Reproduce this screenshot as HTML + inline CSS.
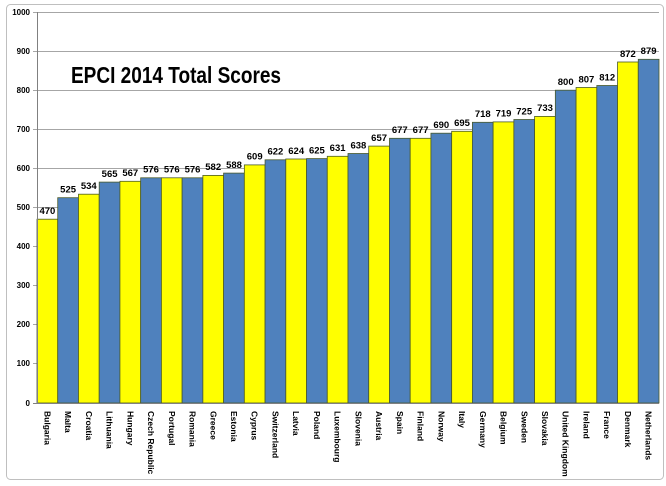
<!DOCTYPE html>
<html><head><style>
html,body{margin:0;padding:0;background:#fff;}
svg{display:block;font-family:"Liberation Sans",Arial,sans-serif;}
</style></head><body>
<svg width="666" height="486" viewBox="0 0 666 486" xmlns="http://www.w3.org/2000/svg">
<rect x="6.5" y="4.5" width="657" height="475" rx="4" fill="#fff" stroke="#bfbfbf" stroke-width="1"/>
<g stroke="#a6a6a6" stroke-width="1">
<line x1="33" x2="659" y1="12.5" y2="12.5"/>
<line x1="33" x2="659" y1="51.5" y2="51.5"/>
<line x1="33" x2="659" y1="90.5" y2="90.5"/>
<line x1="33" x2="659" y1="129.5" y2="129.5"/>
<line x1="33" x2="659" y1="168.5" y2="168.5"/>
<line x1="33" x2="659" y1="207.5" y2="207.5"/>
<line x1="33" x2="659" y1="246.5" y2="246.5"/>
<line x1="33" x2="659" y1="285.5" y2="285.5"/>
<line x1="33" x2="659" y1="324.5" y2="324.5"/>
<line x1="33" x2="659" y1="363.5" y2="363.5"/>
</g>
<g font-size="8" font-weight="bold" text-anchor="end" fill="#000">
<text x="30" y="15">1000</text><text x="30" y="54">900</text><text x="30" y="93">800</text><text x="30" y="132">700</text><text x="30" y="171">600</text><text x="30" y="210">500</text><text x="30" y="249">400</text><text x="30" y="288">300</text><text x="30" y="327">200</text><text x="30" y="366">100</text><text x="30" y="406">0</text>
</g>
<g stroke="#4a5a2a" stroke-width="0.8">
<rect x="37.00" y="219.2" width="20.73" height="183.8" fill="#ffff00"/>
<rect x="57.73" y="197.7" width="20.73" height="205.3" fill="#4f81bd"/>
<rect x="78.47" y="194.2" width="20.73" height="208.8" fill="#ffff00"/>
<rect x="99.20" y="182.1" width="20.73" height="220.9" fill="#4f81bd"/>
<rect x="119.93" y="181.3" width="20.73" height="221.7" fill="#ffff00"/>
<rect x="140.67" y="177.8" width="20.73" height="225.2" fill="#4f81bd"/>
<rect x="161.40" y="177.8" width="20.73" height="225.2" fill="#ffff00"/>
<rect x="182.13" y="177.8" width="20.73" height="225.2" fill="#4f81bd"/>
<rect x="202.87" y="175.4" width="20.73" height="227.6" fill="#ffff00"/>
<rect x="223.60" y="173.1" width="20.73" height="229.9" fill="#4f81bd"/>
<rect x="244.33" y="164.9" width="20.73" height="238.1" fill="#ffff00"/>
<rect x="265.07" y="159.8" width="20.73" height="243.2" fill="#4f81bd"/>
<rect x="285.80" y="159.0" width="20.73" height="244.0" fill="#ffff00"/>
<rect x="306.53" y="158.6" width="20.73" height="244.4" fill="#4f81bd"/>
<rect x="327.27" y="156.3" width="20.73" height="246.7" fill="#ffff00"/>
<rect x="348.00" y="153.5" width="20.73" height="249.5" fill="#4f81bd"/>
<rect x="368.73" y="146.1" width="20.73" height="256.9" fill="#ffff00"/>
<rect x="389.47" y="138.3" width="20.73" height="264.7" fill="#4f81bd"/>
<rect x="410.20" y="138.3" width="20.73" height="264.7" fill="#ffff00"/>
<rect x="430.93" y="133.2" width="20.73" height="269.8" fill="#4f81bd"/>
<rect x="451.67" y="131.3" width="20.73" height="271.7" fill="#ffff00"/>
<rect x="472.40" y="122.3" width="20.73" height="280.7" fill="#4f81bd"/>
<rect x="493.13" y="121.9" width="20.73" height="281.1" fill="#ffff00"/>
<rect x="513.87" y="119.5" width="20.73" height="283.5" fill="#4f81bd"/>
<rect x="534.60" y="116.4" width="20.73" height="286.6" fill="#ffff00"/>
<rect x="555.33" y="90.2" width="20.73" height="312.8" fill="#4f81bd"/>
<rect x="576.07" y="87.5" width="20.73" height="315.5" fill="#ffff00"/>
<rect x="596.80" y="85.5" width="20.73" height="317.5" fill="#4f81bd"/>
<rect x="617.53" y="62.0" width="20.73" height="341.0" fill="#ffff00"/>
<rect x="638.27" y="59.3" width="20.73" height="343.7" fill="#4f81bd"/>
</g>
<line x1="37.5" x2="37.5" y1="12" y2="403" stroke="#808080"/>
<line x1="33" x2="659" y1="403.5" y2="403.5" stroke="#808080"/>
<g font-size="9.5" font-weight="bold" text-anchor="middle" fill="#000">
<text x="47.4" y="214">470</text><text x="68.1" y="192.5">525</text><text x="88.8" y="189">534</text><text x="109.6" y="177">565</text><text x="130.3" y="176">567</text><text x="151.0" y="172.6">576</text><text x="171.8" y="172.6">576</text><text x="192.5" y="172.6">576</text><text x="213.2" y="170.2">582</text><text x="234.0" y="168">588</text><text x="254.7" y="159.7">609</text><text x="275.4" y="154.6">622</text><text x="296.2" y="153.8">624</text><text x="316.9" y="153.4">625</text><text x="337.6" y="151.1">631</text><text x="358.4" y="148.3">638</text><text x="379.1" y="141">657</text><text x="399.8" y="133.1">677</text><text x="420.6" y="133.1">677</text><text x="441.3" y="128">690</text><text x="462.0" y="126.1">695</text><text x="482.8" y="117.1">718</text><text x="503.5" y="116.7">719</text><text x="524.2" y="114.3">725</text><text x="545.0" y="111.2">733</text><text x="565.7" y="85">800</text><text x="586.4" y="82.3">807</text><text x="607.2" y="80.3">812</text><text x="627.9" y="56.8">872</text><text x="648.6" y="54.1">879</text>
</g>
<g font-size="8.5" font-weight="bold" fill="#000">
<text transform="translate(44.4,411) rotate(90)">Bulgaria</text>
<text transform="translate(65.1,411) rotate(90)">Malta</text>
<text transform="translate(85.9,411) rotate(90)">Croatia</text>
<text transform="translate(106.6,411) rotate(90)">Lithuania</text>
<text transform="translate(127.3,411) rotate(90)">Hungary</text>
<text transform="translate(148.1,411) rotate(90)">Czech Republic</text>
<text transform="translate(168.8,411) rotate(90)">Portugal</text>
<text transform="translate(189.5,411) rotate(90)">Romania</text>
<text transform="translate(210.3,411) rotate(90)">Greece</text>
<text transform="translate(231.0,411) rotate(90)">Estonia</text>
<text transform="translate(251.7,411) rotate(90)">Cyprus</text>
<text transform="translate(272.5,411) rotate(90)">Switzerland</text>
<text transform="translate(293.2,411) rotate(90)">Latvia</text>
<text transform="translate(313.9,411) rotate(90)">Poland</text>
<text transform="translate(334.7,411) rotate(90)">Luxembourg</text>
<text transform="translate(355.4,411) rotate(90)">Slovenia</text>
<text transform="translate(376.1,411) rotate(90)">Austria</text>
<text transform="translate(396.9,411) rotate(90)">Spain</text>
<text transform="translate(417.6,411) rotate(90)">Finland</text>
<text transform="translate(438.3,411) rotate(90)">Norway</text>
<text transform="translate(459.1,411) rotate(90)">Italy</text>
<text transform="translate(479.8,411) rotate(90)">Germany</text>
<text transform="translate(500.5,411) rotate(90)">Belgium</text>
<text transform="translate(521.3,411) rotate(90)">Sweden</text>
<text transform="translate(542.0,411) rotate(90)">Slovakia</text>
<text transform="translate(562.7,411) rotate(90)">United Kingdom</text>
<text transform="translate(583.5,411) rotate(90)">Ireland</text>
<text transform="translate(604.2,411) rotate(90)">France</text>
<text transform="translate(624.9,411) rotate(90)">Denmark</text>
<text transform="translate(645.7,411) rotate(90)">Netherlands</text>
</g>
<text x="71" y="83" font-size="23" font-weight="bold" fill="#000" textLength="210" lengthAdjust="spacingAndGlyphs">EPCI 2014 Total Scores</text>
</svg>
</body></html>
